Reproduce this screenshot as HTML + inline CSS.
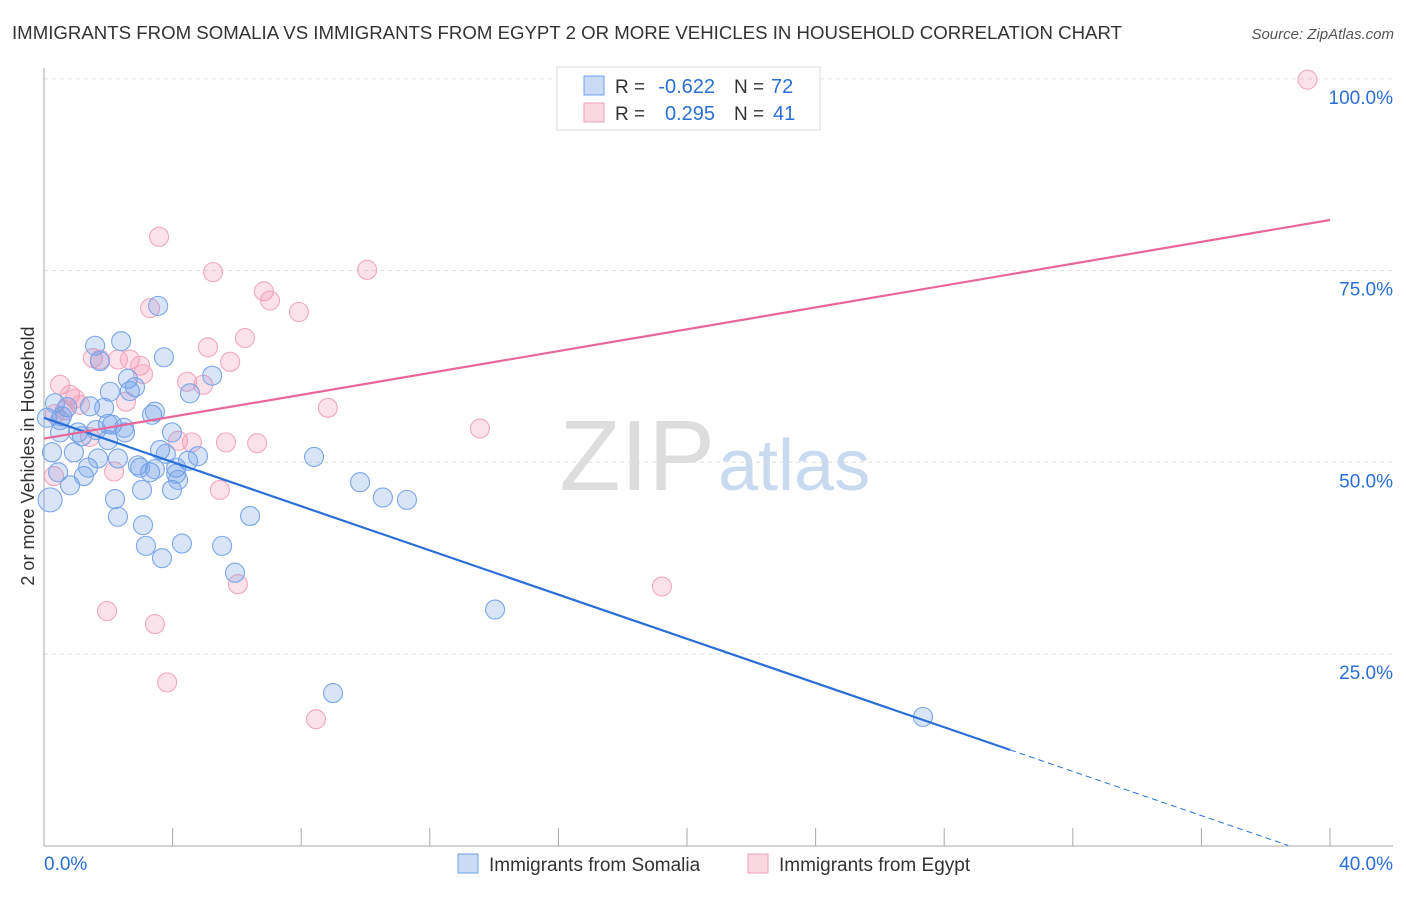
<!DOCTYPE html>
<html><head><meta charset="utf-8"><style>
body{margin:0;background:#fff;font-family:"Liberation Sans",sans-serif}
svg text{font-family:"Liberation Sans",sans-serif}
</style></head><body>
<svg width="1406" height="892">
<text x="12" y="39" font-size="18" fill="#333" textLength="1110" lengthAdjust="spacingAndGlyphs">IMMIGRANTS FROM SOMALIA VS IMMIGRANTS FROM EGYPT 2 OR MORE VEHICLES IN HOUSEHOLD CORRELATION CHART</text>
<text x="1394" y="39" font-size="15" fill="#555" font-style="italic" text-anchor="end">Source: ZipAtlas.com</text>
<text x="715" y="490" font-size="100" font-family="Liberation Serif,serif" fill="#ddd" text-anchor="end">ZIP</text>
<text x="718" y="490" font-size="72" fill="#c9d9f0">atlas</text>
<g id="grid"></g>
<g id="axes"></g>
<g id="pts"></g>
<g id="lines"></g>
<text transform="translate(34,456) rotate(-90)" font-size="18" fill="#333" text-anchor="middle">2 or more Vehicles in Household</text>
<g>
<rect x="557" y="67" width="263" height="63" fill="#fff" stroke="#ddd"/>
<rect x="584" y="76" width="20" height="19" fill="rgba(100,150,230,0.35)" stroke="#6fa0e8"/>
<rect x="584" y="103" width="20" height="19" fill="rgba(240,140,170,0.35)" stroke="#f0a0b8"/>
<text x="615" y="93" font-size="19" fill="#333">R =</text>
<text x="715" y="93" font-size="20" fill="#2a6fd6" text-anchor="end">-0.622</text>
<text x="734" y="93" font-size="19" fill="#333">N =</text>
<text x="771" y="93" font-size="20" fill="#2a6fd6">72</text>
<text x="615" y="120" font-size="19" fill="#333">R =</text>
<text x="715" y="120" font-size="20" fill="#2a6fd6" text-anchor="end">0.295</text>
<text x="734" y="120" font-size="19" fill="#333">N =</text>
<text x="773" y="120" font-size="20" fill="#2a6fd6">41</text>
</g>
<g>
<rect x="458" y="854" width="20" height="19" fill="rgba(100,150,230,0.35)" stroke="#6fa0e8"/>
<text x="489" y="871" font-size="19" fill="#333">Immigrants from Somalia</text>
<rect x="748" y="854" width="20" height="19" fill="rgba(240,140,170,0.35)" stroke="#f0a0b8"/>
<text x="779" y="871" font-size="19" fill="#333">Immigrants from Egypt</text>
</g>
</svg>
<script>
const somaliaX=[0.09,0.34,0.25,0.44,0.19,0.56,0.72,0.5,0.81,0.93,1.06,1.24,1.37,1.43,1.59,1.74,1.68,1.87,1.99,2.05,1.99,2.21,2.3,2.3,2.4,2.52,2.61,2.67,2.83,2.92,3.05,3.08,3.17,3.36,3.45,3.3,3.45,3.55,3.61,3.67,3.73,3.79,3.98,3.98,4.11,4.17,4.29,4.48,4.54,4.79,5.23,5.54,5.94,6.41,8.4,8.99,9.83,10.54,11.29,14.03,27.34,1.18,2.12,2.49,0.5,1.62,2.99,4.11];
const somaliaY=[55.8,57.7,51.3,48.7,45.1,56,57.2,53.9,47,51.3,53.9,48.2,49.3,57.3,65.2,63.2,50.5,57.1,52.9,59.2,55,45.2,42.9,50.5,65.8,53.9,60.9,59.3,59.8,49.6,46.4,41.8,39.1,56.2,56.6,48.7,49.1,70.4,51.6,37.5,63.7,51.1,53.9,46.4,49.3,47.7,39.4,50.2,59,50.8,61.3,39.1,35.6,43,50.7,19.9,47.4,45.4,45.1,30.8,16.8,53.4,54.9,54.5,55.5,54.2,49.3,48.5];
const egyptX=[39.3,3.58,10.05,5.26,6.84,7.03,7.93,3.3,6.25,5.1,5.79,4.45,4.95,1.52,1.74,2.3,2.67,2.99,3.08,0.5,0.81,0.96,1.12,2.55,0.65,8.83,13.56,4.17,4.6,5.66,6.63,1.43,0.31,2.18,5.47,6.03,19.22,1.96,3.45,3.83,8.46,0.34];
const egyptY=[99.9,79.4,75.1,74.8,72.3,71.1,69.6,70.1,66.2,65,63.1,60.5,60.1,63.6,63.4,63.4,63.4,62.6,61.5,60.1,58.8,58.3,57.5,57.9,56.8,57.1,54.4,52.8,52.6,52.6,52.5,53.3,48.2,48.8,46.4,34.1,33.8,30.6,28.9,21.3,16.5,56.3];
const yTicks=[25,50,75,100];
const xTickLabels=["0.0%","40.0%"];
const somaliaFit=[55.8,-1.441];
const egyptFit=[53.1,0.7125];
const NS="http://www.w3.org/2000/svg";
const X=v=>44+v*32.15, Y=v=>845.7-v*7.668;
function mk(p,t,a){const e=document.createElementNS(NS,t);for(const k in a)e.setAttribute(k,a[k]);p.appendChild(e);return e;}
const grid=document.getElementById('grid'),axes=document.getElementById('axes'),pts=document.getElementById('pts'),lines=document.getElementById('lines');
yTicks.forEach(t=>{
 const l=mk(grid,'line',{x1:44,x2:1393,y1:Y(t),y2:Y(t),stroke:'#ddd','stroke-dasharray':'4,4'});
 
 
 const tx=mk(axes,'text',{x:1393,y:Y(t)+25,'font-size':19,fill:'#2a6fd6','text-anchor':'end'});
 tx.textContent=t.toFixed(1)+'%';
 
 
});
mk(axes,'line',{x1:44,x2:44,y1:68,y2:846,stroke:'#aaa'});
mk(axes,'line',{x1:44,x2:1393,y1:846,y2:846,stroke:'#aaa'});
for(let i=0;i<=40;i+=4){mk(axes,'line',{x1:X(i),x2:X(i),y1:828,y2:846,stroke:'#aaa'});}
const xl0=mk(axes,'text',{x:44,y:870,'font-size':19,fill:'#2a6fd6'});xl0.textContent=xTickLabels[0];


const xl1=mk(axes,'text',{x:1393,y:870,'font-size':19,fill:'#2a6fd6','text-anchor':'end'});xl1.textContent=xTickLabels[1];


egyptX.forEach((x,i)=>{const c=mk(pts,'circle',{cx:X(x),cy:Y(egyptY[i]),r:9.5,fill:'rgba(240,140,170,0.25)',stroke:'#f2a8be','stroke-width':1.1});
 
 });
somaliaX.forEach((x,i)=>{const c=mk(pts,'circle',{cx:X(x),cy:Y(somaliaY[i]),r:i==4?12:9.5,fill:'rgba(100,150,230,0.25)',stroke:'#7aa6e8','stroke-width':1.1});
 
 });
const f=(fit,x)=>fit[0]+fit[1]*x;
const bl=mk(lines,'line',{x1:X(0),y1:Y(f(somaliaFit,0)),x2:X(30.05),y2:Y(f(somaliaFit,30.05)),stroke:'#2a6fd6','stroke-width':2.2});


const bd=mk(lines,'line',{x1:X(30.05),y1:Y(f(somaliaFit,30.05)),x2:X(38.7),y2:Y(f(somaliaFit,38.7)),stroke:'#2a6fd6','stroke-width':1,'stroke-dasharray':'6,4'});


const pl=mk(lines,'line',{x1:X(0),y1:Y(f(egyptFit,0)),x2:X(40),y2:Y(f(egyptFit,40)),stroke:'#e8679a','stroke-width':2.2});


</script>
</body></html>
